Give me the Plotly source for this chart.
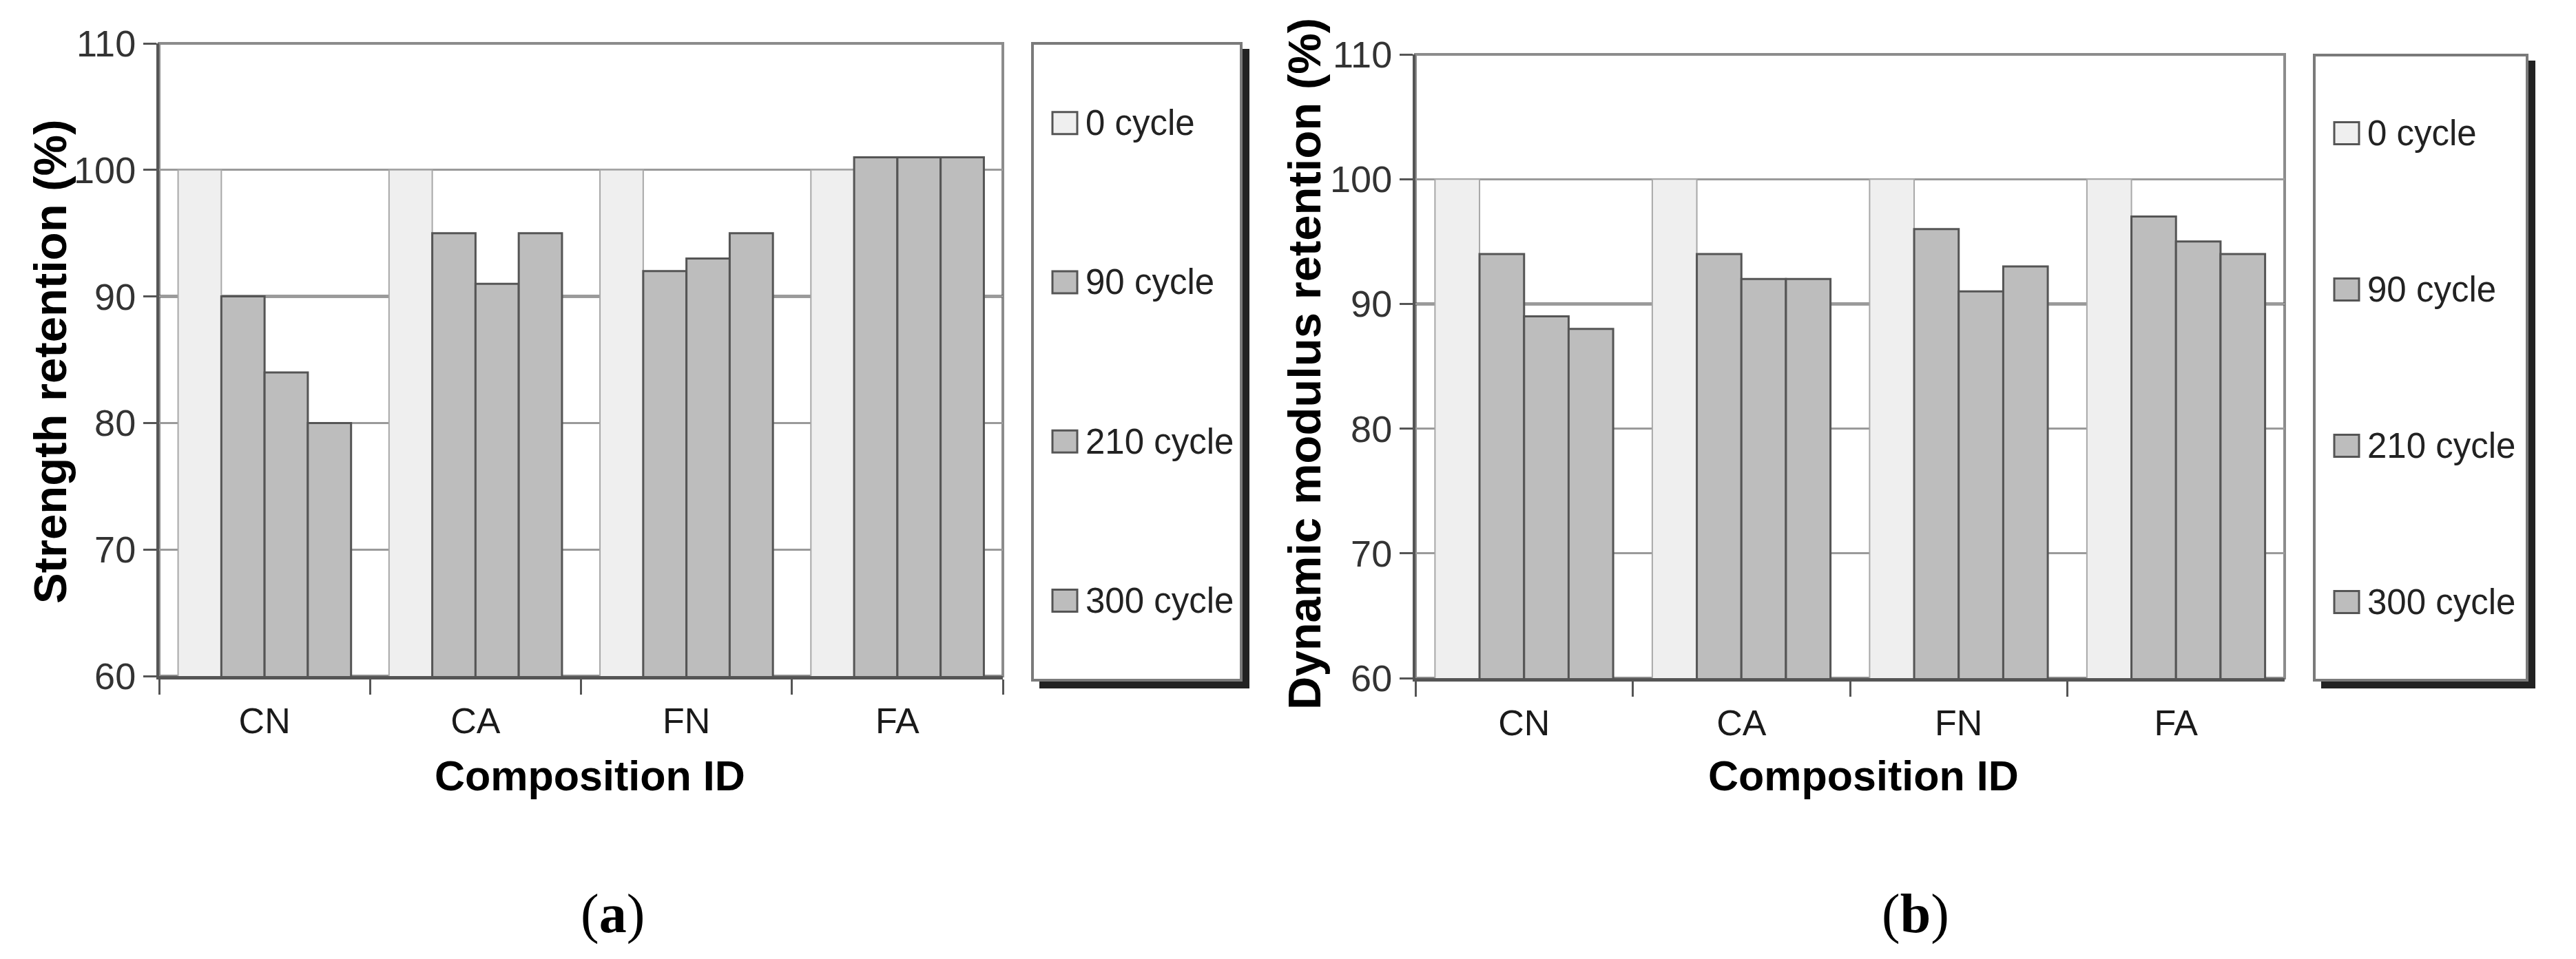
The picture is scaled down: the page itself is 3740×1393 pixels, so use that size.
import plotly.graph_objects as go

W_WIN, H_WIN = 3740, 1393
BODY = 8  # default page margin around the plot div
W, H = W_WIN - 2 * BODY, H_WIN - 2 * BODY

categories = ["CN", "CA", "FN", "FA"]
series_names = ["0 cycle", "90 cycle", "210 cycle", "300 cycle"]

strength_0 = [100, 100, 100, 100]
strength_90 = [90, 95, 92, 101]
strength_210 = [84, 91, 93, 101]
strength_300 = [80, 95, 95, 101]

modulus_0 = [100, 100, 100, 100]
modulus_90 = [94, 94, 96, 97]
modulus_210 = [89, 92, 91, 95]
modulus_300 = [88, 92, 93, 94]

y_ticks = [60, 70, 80, 90, 100, 110]
dark_grid_value = 90

strength_series = [strength_0, strength_90, strength_210, strength_300]
modulus_series = [modulus_0, modulus_90, modulus_210, modulus_300]

fills = ["#efefef", "#bdbdbd", "#bdbdbd", "#bdbdbd"]
edges = ["#a8a8a8", "#555555", "#555555", "#555555"]
edge_w = [2, 3, 3, 3]

FONT = "Liberation Sans, Arial, sans-serif"


def px_x(p):
    return (p - BODY) / W


def px_y(p):
    return 1 - (p - BODY) / H


fig = go.Figure()

for i, name in enumerate(series_names):
    fig.add_trace(go.Bar(
        x=categories, y=strength_series[i], name=name, xaxis="x", yaxis="y",
        marker=dict(color=fills[i], line=dict(color=edges[i], width=edge_w[i])),
        showlegend=False))
for i, name in enumerate(series_names):
    fig.add_trace(go.Bar(
        x=categories, y=modulus_series[i], name=name, xaxis="x2", yaxis="y2",
        marker=dict(color=fills[i], line=dict(color=edges[i], width=edge_w[i])),
        showlegend=False))

axis_x = dict(
    showline=True, linecolor="#555555", linewidth=5,
    ticks="outside", tickson="boundaries", ticklen=22, tickwidth=3, tickcolor="#555555",
    tickfont=dict(family=FONT, size=52, color="#1a1a1a"), ticklabelstandoff=16,
    showgrid=False, fixedrange=True, automargin=False,
)
axis_y = dict(
    range=[60, 110], tickvals=y_ticks, ticktext=[str(v) for v in y_ticks],
    showline=True, linecolor="#555555", linewidth=4,
    ticks="outside", ticklen=19, tickwidth=3, tickcolor="#555555",
    tickfont=dict(family=FONT, size=54, color="#333333"),
    showgrid=True, gridcolor="#9a9a9a", gridwidth=3, zeroline=False, fixedrange=True,
    automargin=False,
)

# plot rectangles (window pixels)
L1 = (231, 1456, 63, 982)
L2 = (2055, 3317, 79, 985)

fig.update_layout(
    width=W, height=H, autosize=False,
    margin=dict(l=0, r=0, t=0, b=0, pad=0, autoexpand=False),
    paper_bgcolor="white", plot_bgcolor="white",
    barmode="group", bargap=0.18, bargroupgap=0,
    xaxis=dict(domain=[px_x(L1[0]), px_x(L1[1])], anchor="y", **axis_x),
    yaxis=dict(domain=[px_y(L1[3]), px_y(L1[2])], anchor="x", **axis_y),
    xaxis2=dict(domain=[px_x(L2[0]), px_x(L2[1])], anchor="y2", **axis_x),
    yaxis2=dict(domain=[px_y(L2[3]), px_y(L2[2])], anchor="x2", **axis_y),
    showlegend=False,
)

shapes = []
# plot frames (gray top/right edges) and the darker 90 gridline
for xr, yr, ya in (("x domain", "y domain", "y"), ("x2 domain", "y2 domain", "y2")):
    shapes.append(dict(type="rect", xref=xr, yref=yr, x0=0, x1=1, y0=0, y1=1,
                       line=dict(color="#8c8c8c", width=4), layer="below"))
    shapes.append(dict(type="line", xref=xr, yref=ya, x0=0, x1=1,
                       y0=dark_grid_value, y1=dark_grid_value,
                       line=dict(color="#3a3a3a", width=4), layer="below"))

annotations = []
legend_boxes = [
    (1499, 1802, 63, 988),
    (3360, 3669, 80, 988),
]
for (bx0, bx1, by0, by1) in legend_boxes:
    # shadow
    shapes.append(dict(type="rect", xref="paper", yref="paper",
                       x0=px_x(bx0 + 10), x1=px_x(bx1 + 12), y0=px_y(by1 + 12), y1=px_y(by0 + 8),
                       fillcolor="#222222", line=dict(width=0), layer="above"))
    shapes.append(dict(type="rect", xref="paper", yref="paper",
                       x0=px_x(bx0), x1=px_x(bx1), y0=px_y(by1), y1=px_y(by0),
                       fillcolor="white", line=dict(color="#7a7a7a", width=4), layer="above"))
    bh = by1 - by0
    for i, name in enumerate(series_names):
        cy = by0 + bh * (0.125 + 0.25 * i)
        sx0 = bx0 + 29
        shapes.append(dict(type="rect", xref="paper", yref="paper",
                           x0=px_x(sx0), x1=px_x(sx0 + 36), y0=px_y(cy + 16), y1=px_y(cy - 16),
                           fillcolor=fills[i], line=dict(color="#555555", width=3), layer="above"))
        annotations.append(dict(text=name, xref="paper", yref="paper",
                                x=px_x(sx0 + 46), y=px_y(cy), xanchor="left", yanchor="middle",
                                showarrow=False, font=dict(family=FONT, size=51, color="#222222")))

# axis titles
annotations += [
    dict(text="<b>Strength retention (%)</b>", xref="paper", yref="paper",
         x=px_x(73), y=px_y(526), textangle=-90, showarrow=False,
         xanchor="center", yanchor="middle", font=dict(family=FONT, size=67, color="#000")),
    dict(text="<b>Dynamic modulus retention (%)</b>", xref="paper", yref="paper",
         x=px_x(1893), y=px_y(529), textangle=-90, showarrow=False,
         xanchor="center", yanchor="middle", font=dict(family=FONT, size=67, color="#000")),
    dict(text="<b>Composition ID</b>", xref="paper", yref="paper",
         x=px_x(856), y=px_y(1127), showarrow=False,
         xanchor="center", yanchor="middle", font=dict(family=FONT, size=61, color="#000")),
    dict(text="<b>Composition ID</b>", xref="paper", yref="paper",
         x=px_x(2705), y=px_y(1127), showarrow=False,
         xanchor="center", yanchor="middle", font=dict(family=FONT, size=61, color="#000")),
    dict(text="(<b>a</b>)", xref="paper", yref="paper",
         x=px_x(889), y=px_y(1327), showarrow=False,
         xanchor="center", yanchor="middle",
         font=dict(family="Liberation Serif, Times New Roman, serif", size=80, color="#000")),
    dict(text="(<b>b</b>)", xref="paper", yref="paper",
         x=px_x(2781), y=px_y(1327), showarrow=False,
         xanchor="center", yanchor="middle",
         font=dict(family="Liberation Serif, Times New Roman, serif", size=80, color="#000")),
]

fig.update_layout(shapes=shapes, annotations=annotations)

fig.write_html("out.html")
